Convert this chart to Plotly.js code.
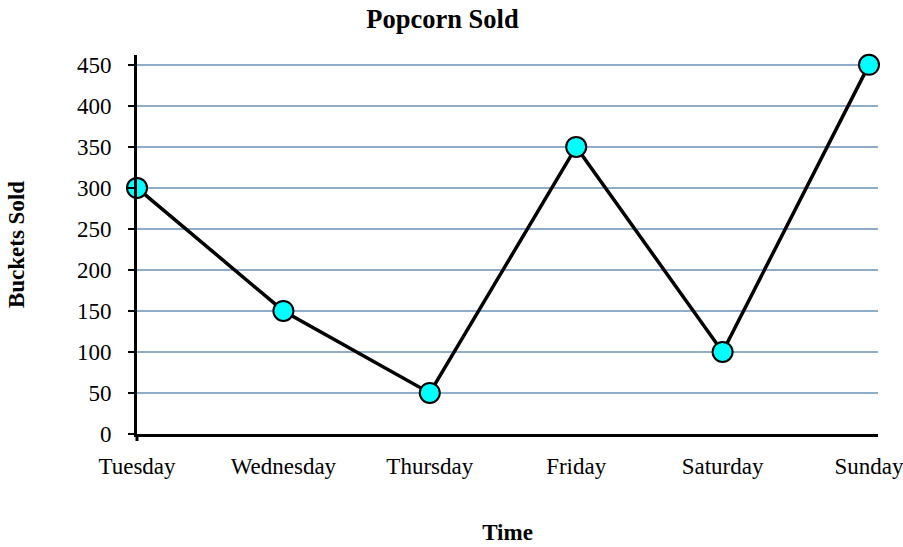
<!DOCTYPE html>
<html>
<head>
<meta charset="utf-8">
<script src="https://cdn.plot.ly/plotly-3.0.1.min.js"></script>
<style>html,body{margin:0;padding:0;background:#fff;}#chart{width:903px;height:547px;}</style>
</head>
<body>
<div id="chart"></div>
<script>
const days = ["Tuesday", "Wednesday", "Thursday", "Friday", "Saturday", "Sunday"];
const bucketsSold = [300, 150, 50, 350, 100, 450];
const yTicks = [0, 50, 100, 150, 200, 250, 300, 350, 400, 450];

const font = "'Liberation Serif', 'Times New Roman', serif";

const trace = {
  x: days,
  y: bucketsSold,
  type: 'scatter',
  mode: 'lines+markers',
  line: {color: '#000000', width: 3.5},
  marker: {color: '#00FFFF', size: 20, line: {color: '#000000', width: 2}},
  cliponaxis: false,
  hoverinfo: 'x+y'
};

const layout = {
  width: 903,
  height: 547,
  margin: {l: 137, r: 25, t: 55, b: 113},
  paper_bgcolor: '#ffffff',
  plot_bgcolor: '#ffffff',
  showlegend: false,
  font: {family: font, size: 23, color: '#000'},
  title: {text: '<b>Popcorn Sold</b>', font: {family: font, size: 26.5, color: '#000'}, xref: 'container', x: 0.49, xanchor: 'center', yref: 'container', y: 0.965, yanchor: 'middle'},
  xaxis: {
    type: 'category',
    range: [0, 5.0615],
    showgrid: false,
    showline: true,
    linecolor: '#000',
    linewidth: 3,
    ticks: '',
    ticklabelstandoff: 9,
    tickfont: {family: font, size: 23, color: '#000'},
    zeroline: false,
    title: {text: '<b>Time</b>', font: {family: font, size: 23, color: '#000'}, standoff: 47}
  },
  yaxis: {
    range: [0, 462],
    tickvals: yTicks,
    ticktext: yTicks.map(String),
    showgrid: true,
    gridcolor: '#8fadc8',
    gridwidth: 1.5,
    showline: true,
    linecolor: '#000',
    linewidth: 3,
    ticks: 'outside',
    ticklen: 6,
    tickwidth: 2,
    tickcolor: '#000',
    ticklabelstandoff: 12,
    tickfont: {family: font, size: 23, color: '#000'},
    zeroline: false,
    title: {text: '<b>Buckets Sold</b>', font: {family: font, size: 23, color: '#000'}, standoff: 46}
  },
  shapes: [{
    type: 'line', xref: 'paper', x0: 0, x1: 0,
    yref: 'paper', ysizemode: 'pixel', yanchor: 0, y0: 0, y1: -7,
    line: {color: '#000', width: 3}
  }]
};

Plotly.newPlot('chart', [trace], layout, {displayModeBar: false, staticPlot: true});
</script>
</body>
</html>
